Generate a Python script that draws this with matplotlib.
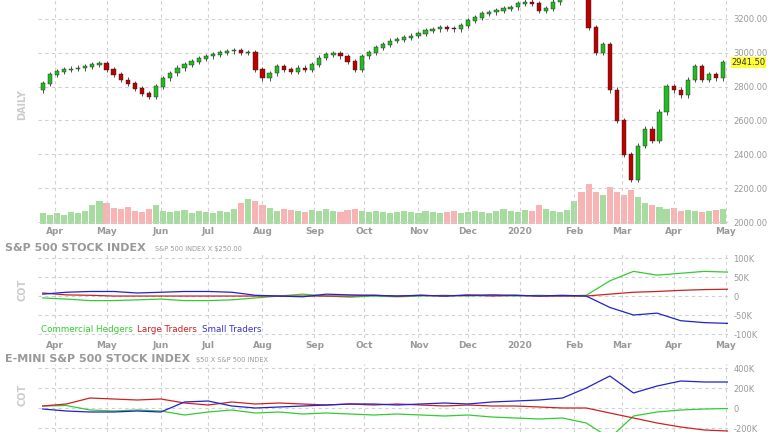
import numpy as np
import pandas as pd
import matplotlib
matplotlib.use("Agg")
import matplotlib.pyplot as plt

# ---- data ----
closes = [2820, 2870, 2890, 2900, 2905, 2910, 2920, 2930, 2935, 2900, 2870, 2840, 2820, 2790, 2760, 2740,
          2800, 2850, 2880, 2910, 2930, 2950, 2965, 2980, 2990, 3000, 3010, 3015, 3000, 3000, 2900, 2850,
          2880, 2920, 2900, 2890, 2910, 2900, 2930, 2970, 2990, 2995, 2980, 2950, 2900, 2980, 3000, 3030,
          3050, 3070, 3080, 3090, 3100, 3115, 3130, 3140, 3150, 3145, 3140, 3160, 3190, 3210, 3230, 3240,
          3250, 3260, 3270, 3290, 3300, 3290, 3250, 3260, 3300, 3330, 3340, 3360, 3340, 3150, 3000, 3050,
          2780, 2600, 2400, 2250, 2450, 2550, 2480, 2650, 2800, 2780, 2750, 2840, 2920, 2840, 2870, 2850, 2941.5]
volume = [10, 9, 10, 9, 11, 10, 12, 18, 22, 20, 15, 14, 16, 12, 11, 14, 18, 12, 11, 12, 13, 10, 12, 11,
          10, 12, 11, 14, 20, 24, 22, 18, 15, 12, 14, 13, 12, 11, 13, 12, 14, 12, 11, 13, 14, 12, 11, 12,
          11, 10, 11, 12, 11, 10, 12, 11, 10, 11, 12, 10, 11, 12, 11, 10, 12, 14, 12, 11, 13, 12, 18, 14,
          12, 11, 13, 22, 30, 38, 30, 28, 35, 30, 28, 32, 26, 20, 18, 16, 14, 15, 12, 13, 12, 11, 12, 13, 14]

cot1_comm = [-5, -8, -12, -12, -10, -8, -12, -12, -10, -5, 0, 5, 0, -3, 0, -2, 0, 2, 0, 2, 0, 2, 0, 2, 40, 65, 55, 60, 65, 63]
cot1_large = [8, 3, 2, 0, 0, 0, 0, 0, 0, 0, 0, 0, 0, 0, 2, 0, 2, 0, 3, 0, 2, 0, 0, 0, 5, 10, 12, 15, 17, 18]
cot1_small = [5, 10, 12, 12, 8, 10, 12, 12, 10, 2, 0, -2, 5, 3, 2, 0, 2, 0, 2, 3, 2, 0, 2, 0, -30, -50, -45, -65, -70, -72]

cot2_comm = [20, 25, -20, -30, -20, -30, -70, -40, -20, -50, -40, -60, -50, -60, -70, -60, -70, -80, -70, -90, -100, -110, -100, -150, -300, -80, -40, -20, -10, -5]
cot2_large = [20, 40, 100, 90, 80, 90, 50, 30, 60, 40, 50, 40, 30, 40, 30, 40, 30, 20, 30, 20, 20, 10, 0, 0, -50, -100, -150, -190, -220, -230]
cot2_small = [-10, -30, -40, -40, -30, -40, 60, 70, 20, 0, 10, 20, 30, 40, 40, 30, 40, 50, 40, 60, 70, 80, 100, 200, 320, 150, 220, 270, 260, 260]

month_labels = ["Apr", "May", "Jun", "Jul", "Aug", "Sep", "Oct", "Nov", "Dec", "2020", "Feb", "Mar", "Apr", "May"]

dates = pd.bdate_range("2019-03-25", periods=291)
cx = np.arange(len(closes)) * 3
wx = np.arange(len(cot1_comm)) * 10
mstarts = [i for i in range(1, len(dates)) if dates[i].month != dates[i - 1].month]

GRID = dict(color="#d0d0d0", ls=(0, (3, 3)), lw=0.8)
LBL = "#999999"

fig = plt.figure(figsize=(7.68, 4.32), dpi=100)
W = 728 / 768 - 38 / 768
ax = fig.add_axes([38 / 768, 1 - 224 / 432, W, 224 / 432])
axv = ax.twinx()
ax2 = fig.add_axes([38 / 768, 1 - 338 / 432, W, 86 / 432])
ax3 = fig.add_axes([38 / 768, 0, W, 68 / 432])

for a in (ax, ax2, ax3):
    a.set_xlim(-2, 290)
    for s in a.spines.values():
        s.set_visible(False)
    a.yaxis.tick_right()
    a.tick_params(length=0, labelsize=6, labelcolor=LBL, pad=4)
    a.set_xticks(mstarts)
    a.grid(True, **GRID)
    a.set_axisbelow(True)

# volume
axv.set_xlim(-2, 290)
axv.set_ylim(0, 224 / 40 * 38)
axv.axis("off")
opens = [closes[0] - 40] + closes[:-1]
for i, (o, c) in enumerate(zip(opens, closes)):
    up = c >= o
    axv.bar(cx[i], volume[i], width=2.6, color="#a6dca0" if up else "#f8b4b4", lw=0)
ax.set_zorder(axv.get_zorder() + 1)
ax.patch.set_visible(False)

# candles
for i, (o, c) in enumerate(zip(opens, closes)):
    up = c >= o
    col = "#22bb22" if up else "#bb0000"
    hi, lo = max(o, c) + 15, min(o, c) - 15
    ax.vlines(cx[i], lo, hi, color="#333333", lw=0.6, zorder=3)
    ax.bar(cx[i], abs(c - o) + 4, bottom=min(o, c) - 2, width=1.8, color=col, edgecolor="#222222", lw=0.3, zorder=4)

ax.set_ylim(2000 - 2 * 200 / 34, 3200 + 19 * 200 / 34)
ax.set_yticks(np.arange(2000, 3201, 200))
ax.set_yticklabels([f"{v:.2f}" for v in np.arange(2000, 3201, 200)])
ax.set_xticklabels(month_labels, fontsize=6.5, fontweight="bold", color=LBL)
ax.tick_params(axis="x", pad=2)
ax.text(1.005, closes[-1], f"{closes[-1]:.2f}", transform=ax.get_yaxis_transform(),
        fontsize=6, va="center", ha="left", color="#333333",
        bbox=dict(boxstyle="square,pad=0.1", fc="#ffff33", ec="none"))
fig.text(22 / 768, 1 - 105 / 432, "DAILY", rotation=90, fontsize=7, fontweight="bold", color="#cccccc", ha="center", va="center")

# COT panel 1
ax2.plot(wx, cot1_comm, color="#33cc33", lw=0.9)
ax2.plot(wx, cot1_large, color="#cc2222", lw=0.9)
ax2.plot(wx, cot1_small, color="#2222cc", lw=0.9)
ax2.set_ylim(-110.5, 116)
ax2.set_yticks([-100, -50, 0, 50, 100])
ax2.set_yticklabels(["-100K", "-50K", "0", "50K", "100K"])
ax2.set_xticklabels(month_labels, fontsize=6.5, fontweight="bold", color=LBL)
ax2.tick_params(axis="x", pad=2)
fig.text(5 / 768, 1 - 248 / 432, "S&P 500 STOCK INDEX", fontsize=8, fontweight="bold", color="#999999", va="center")
fig.text(155 / 768, 1 - 249 / 432, "S&P 500 INDEX X $250.00", fontsize=4.8, color="#999999", va="center")
fig.text(22 / 768, 1 - 290 / 432, "COT", rotation=90, fontsize=7, fontweight="bold", color="#cccccc", ha="center", va="center")
fig.text(41 / 768, 1 - 329 / 432, "Commercial Hedgers", fontsize=6.3, color="#33cc33", va="center")
fig.text(137 / 768, 1 - 329 / 432, "Large Traders", fontsize=6.3, color="#cc2222", va="center")
fig.text(202 / 768, 1 - 329 / 432, "Small Traders", fontsize=6.3, color="#3333cc", va="center")

# COT panel 2
ax3.plot(wx, cot2_comm, color="#33cc33", lw=0.9)
ax3.plot(wx, cot2_large, color="#cc2222", lw=0.9)
ax3.plot(wx, cot2_small, color="#2222cc", lw=0.9)
ax3.set_ylim(-240, 440)
ax3.set_yticks([-200, 0, 200, 400])
ax3.set_yticklabels(["-200K", "0", "200K", "400K"])
ax3.set_xticklabels([])
fig.text(5 / 768, 1 - 359 / 432, "E-MINI S&P 500 STOCK INDEX", fontsize=8, fontweight="bold", color="#999999", va="center")
fig.text(196 / 768, 1 - 360 / 432, "$50 X S&P 500 INDEX", fontsize=4.8, color="#999999", va="center")
fig.text(22 / 768, 1 - 395 / 432, "COT", rotation=90, fontsize=7, fontweight="bold", color="#cccccc", ha="center", va="center")

fig.savefig("out.png", dpi=100)
